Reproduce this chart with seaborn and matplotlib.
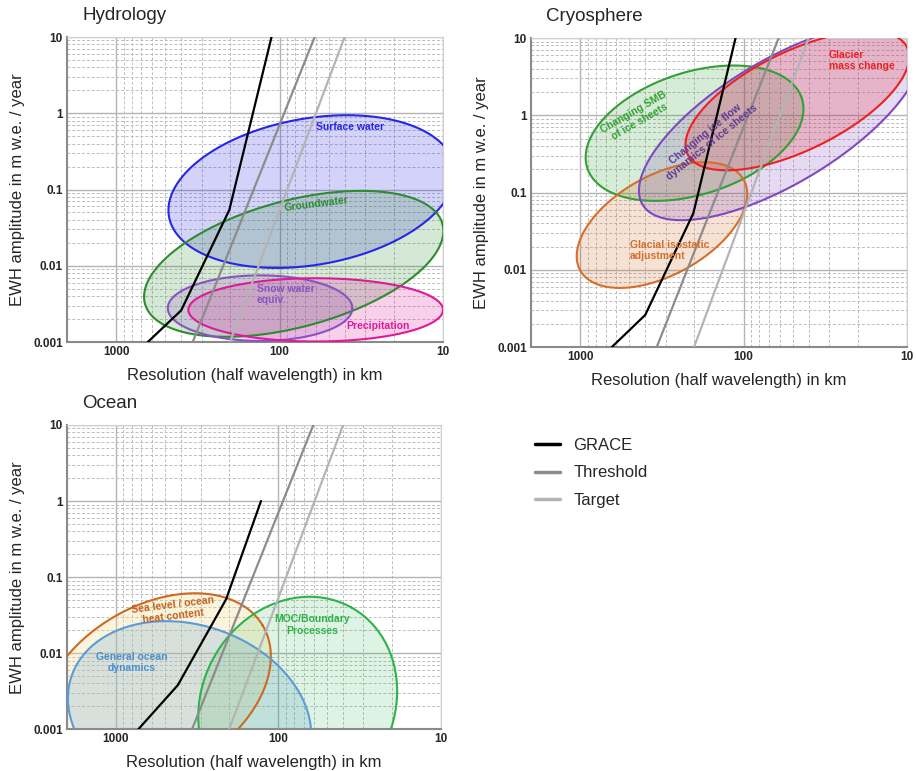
import numpy as np
import matplotlib
matplotlib.use("Agg")
import matplotlib.pyplot as plt
from matplotlib.lines import Line2D
from matplotlib.ticker import NullFormatter, FixedLocator
import seaborn as sns

# --- sensitivity curves (resolution km, EWH amplitude m/yr) ---
grace_res = [640, 400, 203, 112]
grace_amp = [0.001, 0.0026, 0.054, 10]
grace_res_ocean = [728, 416, 210, 128]
grace_amp_ocean = [0.001, 0.0038, 0.051, 1.0]
threshold_res = [340, 61]
threshold_amp = [0.001, 10]
target_res = [201, 40]
target_amp = [0.001, 10]

# --- science requirement ellipses: centre (km, m/yr), semi-axes in decades, tilt in deg ---
hydro_names = ["Surface water", "Groundwater", "Snow water equiv.", "Precipitation"]
hydro_res = [63.6, 81.9, 131.6, 60.1]
hydro_amp = [0.094, 0.0106, 0.00278, 0.00264]
hydro_major = [1.90, 2.02, 1.21, 1.67]
hydro_minor = [0.96, 0.83, 0.43, 0.415]
hydro_tilt = [10, 15, 0, 0]

cryo_names = ["Changing SMB of ice sheets", "Glacial isostatic adjustment",
              "Changing ice flow dynamics of ice sheets", "Glacier mass change"]
cryo_res = [199.6, 316, 59.6, 46.9]
cryo_amp = [0.586, 0.0379, 0.82, 1.54]
cryo_major = [1.46, 1.21, 2.08, 1.58]
cryo_minor = [0.79, 0.645, 0.80, 0.64]
cryo_tilt = [18, 29, 31, 26]

ocean_names = ["Sea level / ocean heat content", "General ocean dynamics", "MOC/Boundary Processes"]
ocean_res = [575, 352, 76.1]
ocean_amp = [0.0033, 0.00147, 0.00216]
ocean_major = [1.65, 1.64, 1.45]
ocean_minor = [1.10, 1.20, 1.26]
ocean_tilt = [31, -19, 61]

sns.set_theme(style="white")
plt.rcParams["font.family"] = ["Liberation Sans", "DejaVu Sans"]

fig = plt.figure(figsize=(9.16, 7.71), dpi=100)
ax_h = fig.add_axes([0.0731, 0.5564, 0.4105, 0.3956])
ax_c = fig.add_axes([0.5797, 0.5499, 0.4105, 0.4008])
ax_o = fig.add_axes([0.0731, 0.0541, 0.4083, 0.3947])


def setup_axes(ax, title):
    ax.set_xscale("log")
    ax.set_yscale("log")
    ax.set_xlim(2000, 10)
    ax.set_ylim(0.001, 10)
    ax.xaxis.set_major_locator(FixedLocator([1000, 100, 10]))
    ax.yaxis.set_major_locator(FixedLocator([0.001, 0.01, 0.1, 1, 10]))
    ax.set_xticklabels(["1000", "100", "10"])
    ax.set_yticklabels(["0.001", "0.01", "0.1", "1", "10"])
    ax.xaxis.set_minor_formatter(NullFormatter())
    ax.yaxis.set_minor_formatter(NullFormatter())
    ax.grid(which="major", color="#b4b4b4", lw=1.0, ls="-")
    ax.grid(which="minor", color="#bdbdbd", lw=0.7, ls=(0, (3, 2)))
    ax.set_axisbelow(True)
    ax.tick_params(which="both", length=0, pad=3, labelsize=8.5)
    for lab in ax.get_xticklabels() + ax.get_yticklabels():
        lab.set_fontweight("bold")
    for side in ["left", "bottom"]:
        ax.spines[side].set_color("#8a8a8a")
        ax.spines[side].set_linewidth(1.5)
    for side in ["top", "right"]:
        ax.spines[side].set_color("#d0d0d0")
        ax.spines[side].set_linewidth(0.8)
    ax.set_xlabel("Resolution (half wavelength) in km", fontsize=12, labelpad=7)
    ax.set_ylabel("EWH amplitude in m w.e. / year", fontsize=12, labelpad=6)
    ax.text(0.04, 1.07, title, transform=ax.transAxes, fontsize=13.5,
            ha="left", va="center")


def decade_ratio(ax):
    # pixels per x decade divided by pixels per y decade
    bb = ax.get_position()
    w = bb.width * fig.get_figwidth()
    h = bb.height * fig.get_figheight()
    x0, x1 = ax.get_xlim()
    y0, y1 = ax.get_ylim()
    return (w / abs(np.log10(x1 / x0))) / (h / abs(np.log10(y1 / y0)))


def draw_ellipse(ax, res, amp, major, minor, tilt, color, fill=None, alpha=0.2):
    r = decade_ratio(ax)
    t = np.linspace(0, 2 * np.pi, 400)
    th = np.deg2rad(tilt)
    du = major * np.cos(t) * np.cos(th) - minor * np.sin(t) * np.sin(th)
    dv = major * np.cos(t) * np.sin(th) + minor * np.sin(t) * np.cos(th)
    xs = 10 ** (np.log10(res) - du / r)
    ys = 10 ** (np.log10(amp) + dv)
    ax.fill(xs, ys, facecolor=fill or color, alpha=alpha, edgecolor="none", zorder=2)
    ax.plot(xs, ys, color=color, lw=1.5, zorder=3)


def draw_curves(ax, g_res, g_amp):
    sns.lineplot(x=g_res, y=g_amp, ax=ax, color="black", lw=1.6, sort=False,
                 estimator=None, legend=False, zorder=4)
    sns.lineplot(x=threshold_res, y=threshold_amp, ax=ax, color="#8c8c8c", lw=1.6,
                 sort=False, estimator=None, legend=False, zorder=4)
    sns.lineplot(x=target_res, y=target_amp, ax=ax, color="#b4b4b4", lw=1.6,
                 sort=False, estimator=None, legend=False, zorder=4)


lab_kw = dict(fontsize=7.5, fontweight="bold", zorder=6, linespacing=1.15)

# Hydrology
setup_axes(ax_h, "Hydrology")
hydro_colors = ["#2626e6", "#2e8b2e", "#8a52c2", "#e0189a"]
for i in range(len(hydro_names)):
    draw_ellipse(ax_h, hydro_res[i], hydro_amp[i], hydro_major[i], hydro_minor[i],
                 hydro_tilt[i], hydro_colors[i])
draw_curves(ax_h, grace_res, grace_amp)
ax_h.text(37.0, 0.656, "Surface water", color=hydro_colors[0], ha="center", va="center", **lab_kw)
ax_h.text(59.3, 0.0648, "Groundwater", color=hydro_colors[1], ha="center", va="center",
          rotation=7, **lab_kw)
ax_h.text(137.8, 0.00416, "Snow water\nequiv.", color=hydro_colors[2], ha="left", va="center", **lab_kw)
ax_h.text(24.9, 0.00163, "Precipitation", color=hydro_colors[3], ha="center", va="center", **lab_kw)

# Cryosphere
setup_axes(ax_c, "Cryosphere")
cryo_colors = ["#33a033", "#d4702c", "#8048c0", "#ee2020"]
for i in range(len(cryo_names)):
    draw_ellipse(ax_c, cryo_res[i], cryo_amp[i], cryo_major[i], cryo_minor[i],
                 cryo_tilt[i], cryo_colors[i])
draw_curves(ax_c, grace_res, grace_amp)
ax_c.text(450, 0.962, "Changing SMB\nof ice sheets", color=cryo_colors[0], ha="center",
          va="center", rotation=30, **lab_kw)
ax_c.text(494, 0.0179, "Glacial isostatic\nadjustment", color=cryo_colors[1], ha="left",
          va="center", **lab_kw)
ax_c.text(164, 0.505, "Changing ice flow\ndynamics of ice sheets", color="#5c3b91",
          ha="center", va="center", rotation=39, **lab_kw)
ax_c.text(30.2, 5.1, "Glacier\nmass change", color=cryo_colors[3], ha="left", va="center", **lab_kw)

# Ocean
setup_axes(ax_o, "Ocean")
ocean_colors = ["#cc6a22", "#5a9bd8", "#2db34a"]
ocean_fill = ["#f5dc8c", "#5a9bd8", "#2db34a"]
ocean_alpha = [0.3, 0.22, 0.15]
for i in range(len(ocean_names)):
    draw_ellipse(ax_o, ocean_res[i], ocean_amp[i], ocean_major[i], ocean_minor[i],
                 ocean_tilt[i], ocean_colors[i], ocean_fill[i], ocean_alpha[i])
draw_curves(ax_o, grace_res_ocean, grace_amp_ocean)
ax_o.text(445, 0.0363, "Sea level / ocean\nheat content", color="#c0621e", ha="center",
          va="center", rotation=7, **lab_kw)
ax_o.text(798, 0.00753, "General ocean\ndynamics", color="#4a8fd0", ha="center", va="center", **lab_kw)
ax_o.text(62.1, 0.0235, "MOC/Boundary\nProcesses", color=ocean_colors[2], ha="center", va="center", **lab_kw)

handles = [Line2D([], [], color="black", lw=2.5),
           Line2D([], [], color="#8c8c8c", lw=2.5),
           Line2D([], [], color="#b4b4b4", lw=2.5)]
fig.legend(handles, ["GRACE", "Threshold", "Target"], loc="upper left",
           bbox_to_anchor=(0.584, 0.432), frameon=False, fontsize=12,
           handlelength=1.5, handletextpad=0.8, labelspacing=0.75,
           borderpad=0, borderaxespad=0)

fig.savefig("out.png", dpi=100)
